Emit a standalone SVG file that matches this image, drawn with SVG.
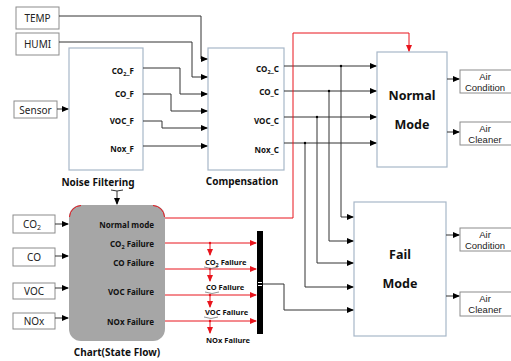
<svg xmlns="http://www.w3.org/2000/svg" width="511" height="361" viewBox="0 0 511 361">
<defs>
<marker id="ab" markerWidth="7" markerHeight="6" refX="6" refY="3" orient="auto" markerUnits="userSpaceOnUse"><path d="M0,0 L7,3 L0,6 Z" fill="#000"/></marker>
<marker id="ar" markerWidth="7" markerHeight="6" refX="6" refY="3" orient="auto" markerUnits="userSpaceOnUse"><path d="M0,0 L7,3 L0,6 Z" fill="#e8141c"/></marker>
</defs>
<style>
.blk{fill:#fff;stroke:#a7b7c8;stroke-width:1.2}
.io{fill:#fff;stroke:#8c8c8c;stroke-width:1}
.io-t{font-family:"Noto Sans","Liberation Sans",sans-serif;font-size:10px;fill:#222;text-anchor:middle}
.io-s{font-family:"Liberation Sans",Arial,sans-serif;font-size:9.5px;fill:#222;text-anchor:middle}
.lb{font-family:"Noto Sans","Liberation Sans",sans-serif;font-size:8px;font-weight:bold;fill:#111;text-anchor:end}
.ttl{font-family:"Noto Sans","Liberation Sans",sans-serif;font-size:10px;font-weight:bold;fill:#111;text-anchor:middle}
.big{font-family:"Noto Sans","Liberation Sans",sans-serif;font-size:12.5px;font-weight:bold;fill:#111;text-anchor:middle}
.w{fill:none;stroke:#333;stroke-width:1}
.r{fill:none;stroke:#e8141c;stroke-width:1}
.fl{font-family:"Noto Sans","Liberation Sans",sans-serif;font-size:7.5px;font-weight:bold;fill:#111}
</style>

<g id="temp"><rect class="io" x="16" y="7" width="43" height="22"/><text class="io-t" x="37.5" y="22">TEMP</text></g>
<g id="humi"><rect class="io" x="16" y="33" width="43" height="22"/><text class="io-t" x="37.5" y="48">HUMI</text></g>
<g id="sensor"><rect class="io" x="14" y="101" width="43" height="17"/><text class="io-t" x="35.5" y="113.5">Sensor</text></g>

<g id="noise-filtering">
<rect class="blk" x="69" y="48" width="74" height="122"/>
<text class="lb" x="134" y="74">CO<tspan font-size="5.5" dy="2">2</tspan><tspan dy="-2">_F</tspan></text>
<text class="lb" x="134" y="97">CO_F</text>
<text class="lb" x="134" y="124">VOC_F</text>
<text class="lb" x="134" y="152">Nox_F</text>
<text class="ttl" x="98" y="186">Noise Filtering</text>
</g>

<g id="compensation">
<rect class="blk" x="208" y="48" width="76" height="122"/>
<text class="lb" x="279" y="72">CO<tspan font-size="5.5" dy="2">2</tspan><tspan dy="-2">_C</tspan></text>
<text class="lb" x="279" y="95">CO_C</text>
<text class="lb" x="279" y="124">VOC_C</text>
<text class="lb" x="279" y="153">Nox_C</text>
<text class="ttl" x="242" y="185">Compensation</text>
</g>

<g id="normal-mode">
<rect class="blk" x="377" y="52" width="70" height="115"/>
<text class="big" x="412" y="100">Normal</text>
<text class="big" x="412" y="129">Mode</text>
</g>

<g id="fail-mode">
<rect class="blk" x="354" y="202" width="92" height="134"/>
<text class="big" x="400" y="259">Fail</text>
<text class="big" x="400" y="288">Mode</text>
</g>

<g id="air-condition-1"><rect class="io" x="460" y="70" width="53" height="23"/><text class="io-s" x="485" y="79.5">Air</text><text class="io-s" x="485" y="90.5">Condition</text></g>
<g id="air-cleaner-1"><rect class="io" x="460" y="122" width="53" height="23"/><text class="io-s" x="485" y="131.5">Air</text><text class="io-s" x="485" y="142.5">Cleaner</text></g>
<g id="air-condition-2"><rect class="io" x="460" y="228" width="53" height="23"/><text class="io-s" x="485" y="237.5">Air</text><text class="io-s" x="485" y="248.5">Condition</text></g>
<g id="air-cleaner-2"><rect class="io" x="460" y="292" width="53" height="24"/><text class="io-s" x="485" y="301.5">Air</text><text class="io-s" x="485" y="312.5">Cleaner</text></g>

<g id="in-co2"><rect class="io" x="13" y="215" width="42" height="18"/><text class="io-t" x="32" y="228">CO<tspan font-size="7" dy="2">2</tspan></text></g>
<g id="in-co"><rect class="io" x="13" y="248" width="42" height="18"/><text class="io-t" x="34" y="261">CO</text></g>
<g id="in-voc"><rect class="io" x="13" y="283" width="42" height="16"/><text class="io-t" x="34" y="295">VOC</text></g>
<g id="in-nox"><rect class="io" x="13" y="313" width="42" height="16"/><text class="io-t" x="34" y="325">NOx</text></g>

<g id="chart">
<rect x="69" y="205" width="96" height="136" rx="12" ry="12" fill="#a6a6a6"/>
<path class="r" d="M69.5,217 A12,12 0 0 1 81,205.5 M153,205.5 A12,12 0 0 1 164.5,217"/>
<text class="lb" x="154" y="228">Normal mode</text>
<text class="lb" x="154" y="247">CO<tspan font-size="5.5" dy="2">2</tspan><tspan dy="-2"> Failure</tspan></text>
<text class="lb" x="154" y="266">CO Failure</text>
<text class="lb" x="154" y="295">VOC Failure</text>
<text class="lb" x="154" y="325">NOx Failure</text>
<text class="ttl" x="117" y="356" font-size="10.5">Chart(State Flow)</text>
</g>

<g id="bus">
<rect x="257" y="231" width="6" height="103" fill="#000"/>
<rect x="258" y="282" width="4" height="1" fill="#fff"/>
<rect x="258" y="285" width="4" height="1" fill="#fff"/>
</g>

<g id="connectors">
<path class="w" d="M59,16 H201 V59 H207" marker-end="url(#ab)"/>
<path class="w" d="M59,42 H192 V77 H207" marker-end="url(#ab)"/>
<path class="w" d="M57,109 H68" marker-end="url(#ab)"/>
<path class="w" d="M143,68 H180 V94 H207" marker-end="url(#ab)"/>
<path class="w" d="M143,94 H171 V111 H207" marker-end="url(#ab)"/>
<path class="w" d="M143,121 H162 V128 H207" marker-end="url(#ab)"/>
<path class="w" d="M143,146 H207" marker-end="url(#ab)"/>

<path class="w" d="M284,66 H376" marker-end="url(#ab)"/>
<path class="w" d="M284,91 H376" marker-end="url(#ab)"/>
<path class="w" d="M284,117 H376" marker-end="url(#ab)"/>
<path class="w" d="M284,143 H376" marker-end="url(#ab)"/>
<path class="w" d="M341,66 V217 H353" marker-end="url(#ab)"/>
<path class="w" d="M329,91 V241 H353" marker-end="url(#ab)"/>
<path class="w" d="M317,117 V263 H353" marker-end="url(#ab)"/>
<path class="w" d="M305,143 V287 H353" marker-end="url(#ab)"/>
<circle cx="341" cy="66" r="1.2" fill="#000"/>
<circle cx="329" cy="91" r="1.2" fill="#000"/>
<circle cx="317" cy="117" r="1.2" fill="#000"/>
<circle cx="305" cy="143" r="1.2" fill="#000"/>

<path class="w" d="M263,284 H284 V310 H353" marker-end="url(#ab)"/>

<path class="w" d="M447,79 H459" marker-end="url(#ab)"/>
<path class="w" d="M447,132 H459" marker-end="url(#ab)"/>
<path class="w" d="M446,235 H459" marker-end="url(#ab)"/>
<path class="w" d="M446,296 H459" marker-end="url(#ab)"/>

<path class="w" d="M55,224 H68" marker-end="url(#ab)"/>
<path class="w" d="M55,256 H68" marker-end="url(#ab)"/>
<path class="w" d="M55,288 H68" marker-end="url(#ab)"/>
<path class="w" d="M55,318 H68" marker-end="url(#ab)"/>

<path class="w" d="M111,190 Q117,192 123,190 M117,191 V204" marker-end="url(#ab)"/>

<path class="r" d="M165,218 H293 V33 H409 V51" marker-end="url(#ar)"/>
<path class="r" d="M165,243 H256" marker-end="url(#ar)"/>
<path class="r" d="M165,269 H256" marker-end="url(#ar)"/>
<path class="r" d="M165,295 H256" marker-end="url(#ar)"/>
<path class="r" d="M165,321 H256" marker-end="url(#ar)"/>
<path class="r" d="M210,243 V255" marker-end="url(#ar)"/>
<path class="r" d="M210,269 V281" marker-end="url(#ar)"/>
<path class="r" d="M210,295 V307" marker-end="url(#ar)"/>
<path class="r" d="M210,321 V333" marker-end="url(#ar)"/>
<circle cx="210" cy="243" r="1.2" fill="#e8141c"/>
<circle cx="210" cy="269" r="1.2" fill="#e8141c"/>
<circle cx="210" cy="295" r="1.2" fill="#e8141c"/>
<circle cx="210" cy="321" r="1.2" fill="#e8141c"/>
</g>

<g id="signal-labels">
<text class="fl" x="205" y="265">CO<tspan font-size="5.5" dy="2">2</tspan><tspan dy="-2"> Failure</tspan></text>
<text class="fl" x="206" y="290">CO Failure</text>
<text class="fl" x="205" y="315">VOC Failure</text>
<text class="fl" x="206" y="343">NOx Failure</text>
<path d="M204,267 Q211,270 218,267 M205,292 Q212,295 219,292 M204,317 Q211,320 218,317" fill="none" stroke="#666" stroke-width="0.7"/>
</g>
</svg>
